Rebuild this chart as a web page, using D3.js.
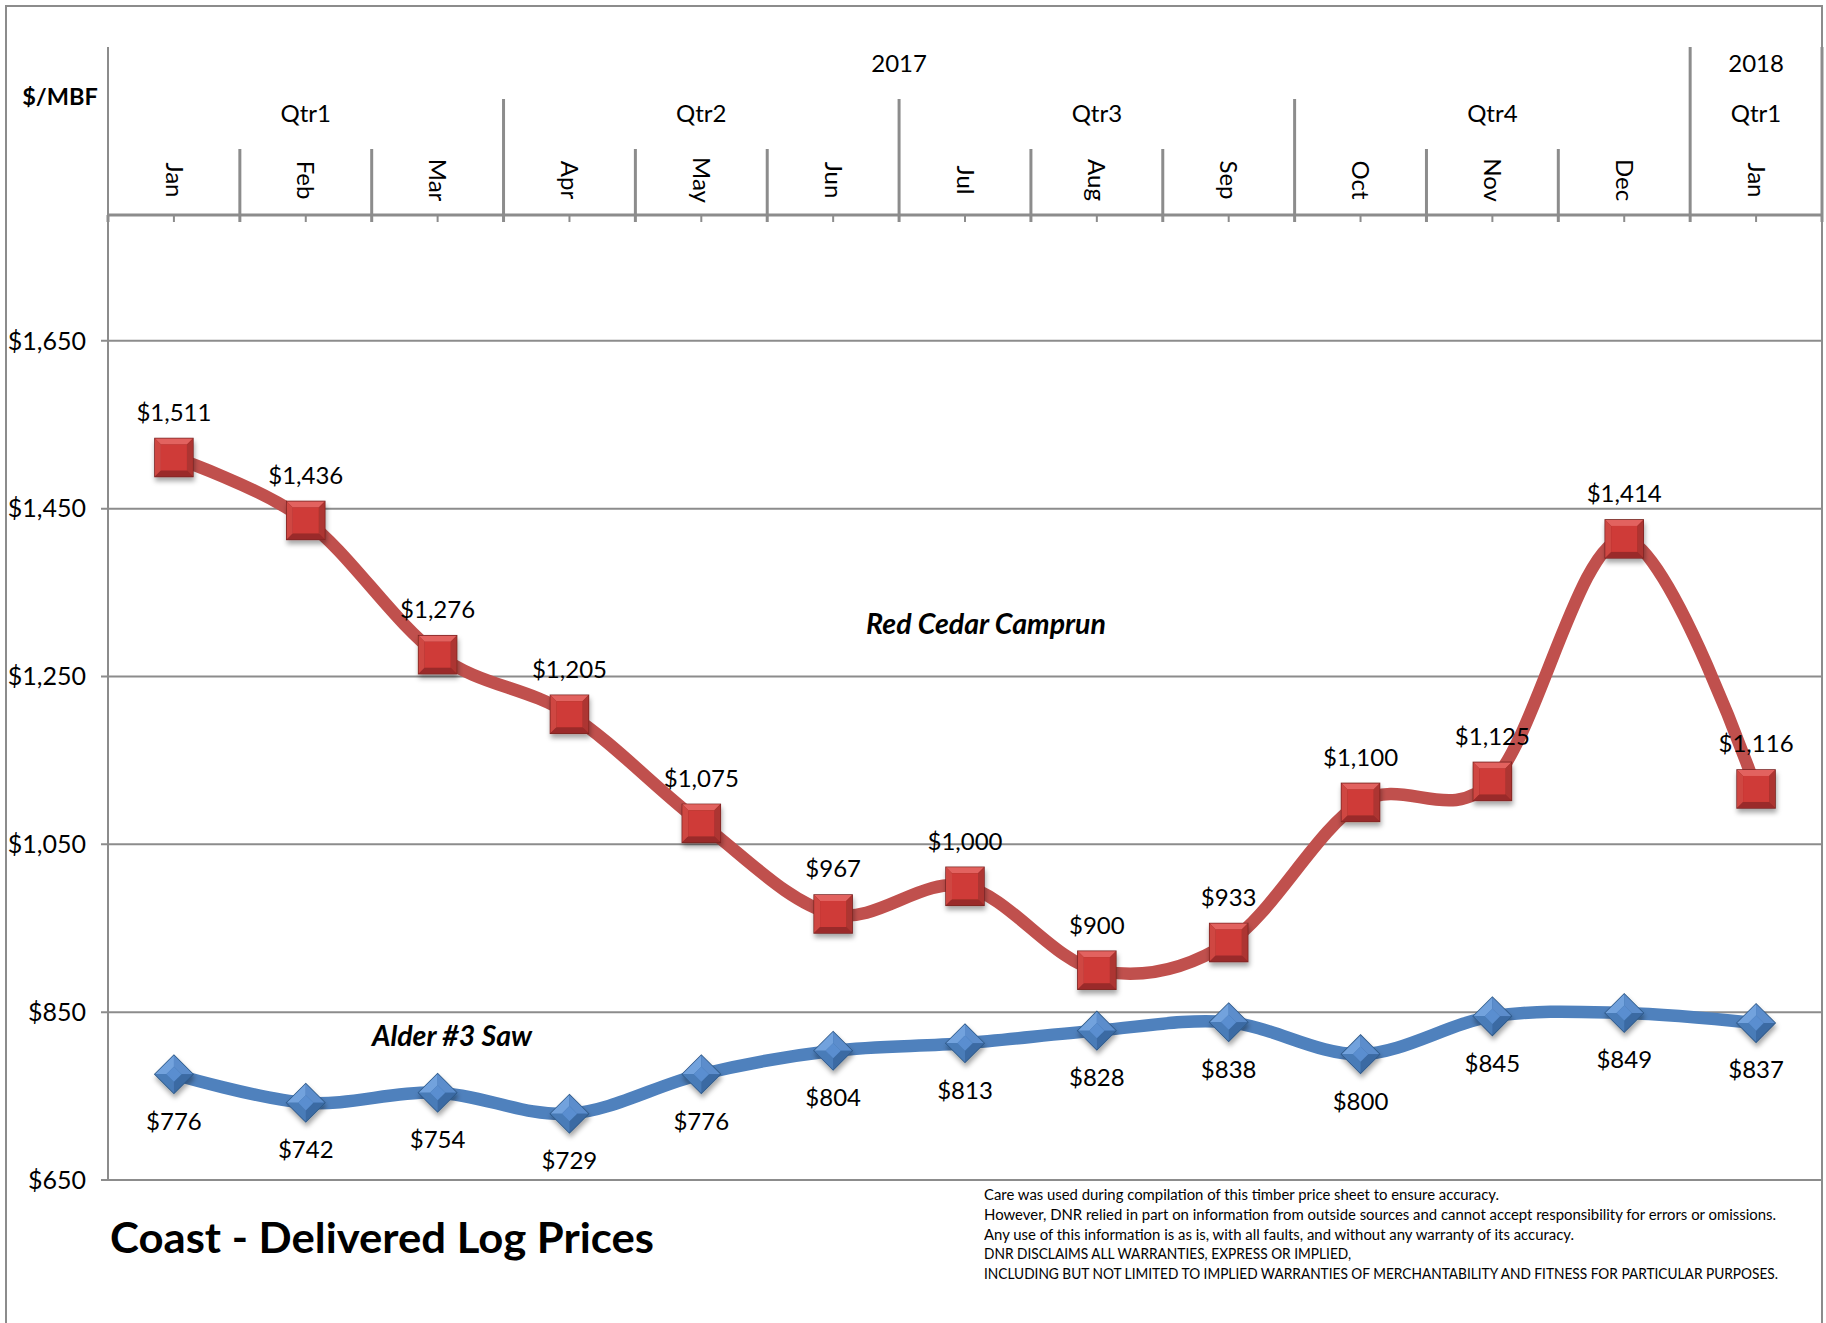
<!DOCTYPE html>
<html>
<head>
<meta charset="utf-8">
<script src="https://cdn.jsdelivr.net/npm/d3@7"></script>
<style>
  body { margin: 0; background: #fff; }
  text { font-family: Lato, "Open Sans", sans-serif; fill: #000; }
</style>
</head>
<body>
<script>
// chart values
var months = ["Jan", "Feb", "Mar", "Apr", "May", "Jun", "Jul", "Aug", "Sep", "Oct", "Nov", "Dec", "Jan"];
var quarterLabels = ["Qtr1", "Qtr2", "Qtr3", "Qtr4", "Qtr1"];
var quarterSpans = [3, 3, 3, 3, 1];
var yearLabels = ["2017", "2018"];
var yearSpans = [12, 1];
var redCedar = [1511, 1436, 1276, 1205, 1075, 967, 1000, 900, 933, 1100, 1125, 1414, 1116];
var alder = [776, 742, 754, 729, 776, 804, 813, 828, 838, 800, 845, 849, 837];
var yTicks = [650, 850, 1050, 1250, 1450, 1650];
var disclaimer = [
    "Care was used during compilation of this timber price sheet to ensure accuracy.",
    "However, DNR relied in part on information from outside sources and cannot accept responsibility for errors or omissions.",
    "Any use of this information is as is, with all faults, and without any warranty of its accuracy.",
    "DNR DISCLAIMS ALL WARRANTIES, EXPRESS OR IMPLIED,",
    "INCLUDING BUT NOT LIMITED TO IMPLIED WARRANTIES OF MERCHANTABILITY AND FITNESS FOR PARTICULAR PURPOSES."
];
// rendered widths of the disclaimer lines in the original (layout only)
var discWidths = [515, 792, 590, 367, 794];

var w = 1826, h = 1323;
var plotLeft = 108, plotRight = 1822, plotTop = 215, plotBottom = 1180;
var gray = "#8c8c8c";
var fs = "24px";

var svg = d3.select("body").append("svg")
    .attr("width", w)
    .attr("height", h);

var defs = svg.append("defs");
var f = defs.append("filter").attr("id", "shadow")
    .attr("x", "-50%").attr("y", "-50%").attr("width", "200%").attr("height", "200%");
f.append("feDropShadow").attr("dx", 1).attr("dy", 4).attr("stdDeviation", 2.5)
    .attr("flood-color", "#000").attr("flood-opacity", 0.35);

// outer frame
svg.append("rect")
    .attr("x", 6).attr("y", 6)
    .attr("width", plotRight - 6).attr("height", h + 20)
    .attr("fill", "none").attr("stroke", gray).attr("stroke-width", 2);

var x = d3.scaleBand()
    .domain(d3.range(months.length))
    .range([plotLeft, plotRight])
    .padding(0);

var y = d3.scaleLinear()
    .domain([650, 1800])
    .range([plotBottom, plotTop]);

function cx(i) { return x(i) + x.bandwidth() / 2; }
function edge(b) { return b >= months.length ? plotRight : x(b); }

// gridlines + y labels
svg.selectAll(".grid")
    .data(yTicks).enter()
    .append("line")
    .attr("x1", plotLeft - 7).attr("x2", plotRight)
    .attr("y1", function (d) { return y(d); })
    .attr("y2", function (d) { return y(d); })
    .attr("stroke", gray).attr("stroke-width", 2);

svg.selectAll(".ylab")
    .data(yTicks).enter()
    .append("text")
    .attr("x", plotLeft - 22)
    .attr("y", function (d) { return y(d); })
    .attr("dy", "0.35em")
    .attr("text-anchor", "end")
    .style("font-size", "25px")
    .text(function (d) { return "$" + d3.format(",")(d); });

// left axis line (runs up through the header)
svg.append("line")
    .attr("x1", plotLeft).attr("x2", plotLeft)
    .attr("y1", 47).attr("y2", plotBottom)
    .attr("stroke", gray).attr("stroke-width", 2);

// header category axis
svg.append("line")
    .attr("x1", plotLeft).attr("x2", plotRight)
    .attr("y1", plotTop).attr("y2", plotTop)
    .attr("stroke", gray).attr("stroke-width", 3);

// tick marks at centres
svg.selectAll(".ctick")
    .data(months).enter()
    .append("line")
    .attr("x1", function (d, i) { return cx(i); })
    .attr("x2", function (d, i) { return cx(i); })
    .attr("y1", plotTop).attr("y2", plotTop + 7)
    .attr("stroke", gray).attr("stroke-width", 2);

// dividers: month / quarter / year boundaries
var yearStarts = [0], qStarts = [0];
yearSpans.forEach(function (s, i) { yearStarts.push(yearStarts[i] + s); });
quarterSpans.forEach(function (s, i) { qStarts.push(qStarts[i] + s); });

d3.range(0, months.length + 1).forEach(function (b) {
    var y0 = 149;
    if (qStarts.indexOf(b) >= 0) y0 = 99;
    if (yearStarts.indexOf(b) >= 0) y0 = 47;
    if (b === 0) y0 = plotTop;
    svg.append("line")
        .attr("x1", edge(b)).attr("x2", edge(b))
        .attr("y1", y0).attr("y2", plotTop + 7)
        .attr("stroke", gray).attr("stroke-width", 3);
});

// year labels
yearLabels.forEach(function (lab, i) {
    svg.append("text")
        .attr("x", (edge(yearStarts[i]) + edge(yearStarts[i + 1])) / 2).attr("y", 64)
        .attr("dy", "0.35em").attr("text-anchor", "middle")
        .style("font-size", fs)
        .text(lab);
});

// quarter labels
quarterLabels.forEach(function (lab, i) {
    svg.append("text")
        .attr("x", (edge(qStarts[i]) + edge(qStarts[i + 1])) / 2).attr("y", 114)
        .attr("dy", "0.35em").attr("text-anchor", "middle")
        .style("font-size", fs)
        .text(lab);
});

// month labels, rotated
svg.selectAll(".mlab")
    .data(months).enter()
    .append("text")
    .attr("transform", function (d, i) { return "translate(" + cx(i) + ",180) rotate(90)"; })
    .attr("dy", "0.35em")
    .attr("text-anchor", "middle")
    .style("font-size", fs)
    .text(function (d) { return d; });

svg.append("text")
    .attr("x", 60).attr("y", 97)
    .attr("dy", "0.35em").attr("text-anchor", "middle")
    .style("font-size", "23.5px").style("font-weight", "bold")
    .text("$/MBF");

// lines
var line = d3.line()
    .x(function (d, i) { return cx(i); })
    .y(function (d) { return y(d); })
    .curve(d3.curveCardinal);

svg.append("path")
    .datum(redCedar)
    .attr("d", line)
    .attr("fill", "none").attr("stroke", "#C0504D").attr("stroke-width", 12.5);

svg.append("path")
    .datum(alder)
    .attr("d", line)
    .attr("fill", "none").attr("stroke", "#4F81BD").attr("stroke-width", 12.5);

// bevelled square markers
function square(g, s) {
    var hh = s / 2, b = 6;
    g.append("rect").attr("x", -hh).attr("y", -hh).attr("width", s).attr("height", s)
        .attr("fill", "#9b2d2a").attr("stroke", "#7a2422").attr("stroke-width", 1.5);
    var faces = [
        [[-hh, -hh], [hh, -hh], [hh - b, -hh + b], [-hh + b, -hh + b], "#e2625e"],
        [[-hh, -hh], [-hh + b, -hh + b], [-hh + b, hh - b], [-hh, hh], "#cf4743"],
        [[hh, -hh], [hh, hh], [hh - b, hh - b], [hh - b, -hh + b], "#ad3430"],
        [[-hh, hh], [hh, hh], [hh - b, hh - b], [-hh + b, hh - b], "#9a2c29"]
    ];
    faces.forEach(function (p) {
        g.append("polygon").attr("points", p.slice(0, 4).join(" ")).attr("fill", p[4]);
    });
    g.append("rect").attr("x", -hh + b).attr("y", -hh + b)
        .attr("width", s - 2 * b).attr("height", s - 2 * b)
        .attr("fill", "#cf3b37");
}

function diamond(g, r) {
    var ri = r * 0.4;
    g.append("polygon").attr("points", [[0, -r], [r, 0], [0, r], [-r, 0]].join(" "))
        .attr("fill", "#3f6fa8").attr("stroke", "#2d5785").attr("stroke-width", 1.5);
    var faces = [
        [[0, -r], [-r, 0], [-ri, 0], [0, -ri], "#72a2dd"],
        [[0, -r], [r, 0], [ri, 0], [0, -ri], "#5b8dcc"],
        [[r, 0], [0, r], [0, ri], [ri, 0], "#3b6aa3"],
        [[-r, 0], [0, r], [0, ri], [-ri, 0], "#4a7bb8"]
    ];
    faces.forEach(function (p) {
        g.append("polygon").attr("points", p.slice(0, 4).join(" ")).attr("fill", p[4]);
    });
    g.append("polygon").attr("points", [[0, -ri], [ri, 0], [0, ri], [-ri, 0]].join(" "))
        .attr("fill", "#5a8ed0");
}

svg.selectAll(".rmark")
    .data(redCedar).enter()
    .append("g")
    .attr("transform", function (d, i) { return "translate(" + cx(i) + "," + y(d) + ")"; })
    .attr("filter", "url(#shadow)")
    .each(function () { square(d3.select(this), 38); });

svg.selectAll(".bmark")
    .data(alder).enter()
    .append("g")
    .attr("transform", function (d, i) { return "translate(" + cx(i) + "," + y(d) + ")"; })
    .attr("filter", "url(#shadow)")
    .each(function () { diamond(d3.select(this), 19); });

// data labels
var fmt = function (d) { return "$" + d3.format(",")(d); };
svg.selectAll(".rlab")
    .data(redCedar).enter()
    .append("text")
    .attr("x", function (d, i) { return cx(i); })
    .attr("y", function (d) { return y(d) - 45; })
    .attr("dy", "0.35em").attr("text-anchor", "middle")
    .style("font-size", fs)
    .text(fmt);

svg.selectAll(".blab")
    .data(alder).enter()
    .append("text")
    .attr("x", function (d, i) { return cx(i); })
    .attr("y", function (d) { return y(d) + 47; })
    .attr("dy", "0.35em").attr("text-anchor", "middle")
    .style("font-size", fs)
    .text(fmt);

// series names
svg.append("text")
    .attr("x", 986).attr("y", 624)
    .attr("dy", "0.35em").attr("text-anchor", "middle")
    .style("font-size", "28.5px").style("font-weight", "bold").style("font-style", "italic")
    .text("Red Cedar Camprun");

svg.append("text")
    .attr("x", 452).attr("y", 1036)
    .attr("dy", "0.35em").attr("text-anchor", "middle")
    .style("font-size", "28.5px").style("font-weight", "bold").style("font-style", "italic")
    .text("Alder #3 Saw");

// title
svg.append("text")
    .attr("x", 110).attr("y", 1253)
    .style("font-size", "42px").style("font-weight", "bold")
    .attr("textLength", 544).attr("lengthAdjust", "spacingAndGlyphs")
    .text("Coast - Delivered Log Prices");

// disclaimer
svg.selectAll(".disc")
    .data(disclaimer).enter()
    .append("text")
    .attr("x", 984)
    .attr("y", function (d, i) { return 1195 + i * 19.8; })
    .attr("dy", "0.35em")
    .style("font-size", "14.5px")
    .attr("textLength", function (d, i) { return discWidths[i]; })
    .attr("lengthAdjust", "spacingAndGlyphs")
    .text(function (d) { return d; });
</script>
</body>
</html>
